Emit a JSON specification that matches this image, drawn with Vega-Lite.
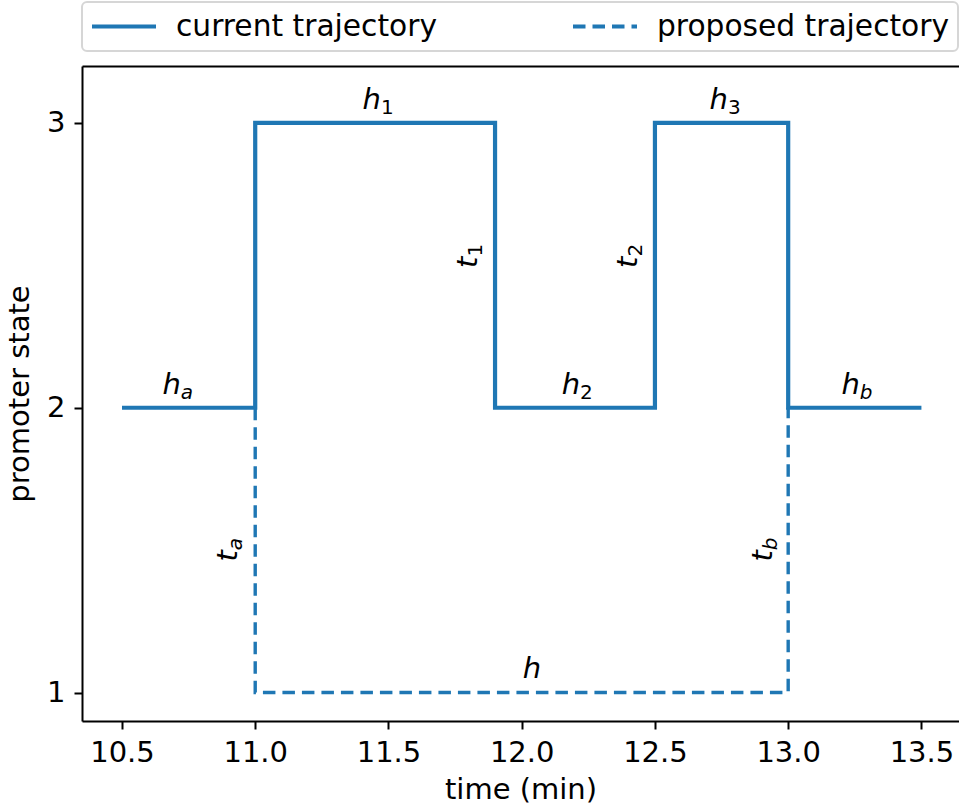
{
  "$schema": "https://vega.github.io/schema/vega-lite/v6.json",
  "width": 877,
  "height": 655,
  "autosize": {"type": "none"},
  "padding": {"left": 82, "top": 66, "right": 0, "bottom": 88},
  "background": "white",
  "datasets": {
    "trajectory": [
      {"series": "current trajectory", "step": 0, "time": 10.5, "state": 2},
      {"series": "current trajectory", "step": 1, "time": 11.0, "state": 2},
      {"series": "current trajectory", "step": 2, "time": 11.0, "state": 3},
      {"series": "current trajectory", "step": 3, "time": 11.9, "state": 3},
      {"series": "current trajectory", "step": 4, "time": 11.9, "state": 2},
      {"series": "current trajectory", "step": 5, "time": 12.5, "state": 2},
      {"series": "current trajectory", "step": 6, "time": 12.5, "state": 3},
      {"series": "current trajectory", "step": 7, "time": 13.0, "state": 3},
      {"series": "current trajectory", "step": 8, "time": 13.0, "state": 2},
      {"series": "current trajectory", "step": 9, "time": 13.5, "state": 2},
      {"series": "proposed trajectory", "step": 0, "time": 11.0, "state": 2},
      {"series": "proposed trajectory", "step": 1, "time": 11.0, "state": 1},
      {"series": "proposed trajectory", "step": 2, "time": 13.0, "state": 1},
      {"series": "proposed trajectory", "step": 3, "time": 13.0, "state": 2}
    ],
    "holdLabels": [
      {"main": "h", "sub": "a", "time": 10.721, "state": 2.05},
      {"main": "h", "sub": "1", "time": 11.472, "state": 3.05},
      {"main": "h", "sub": "2", "time": 12.219, "state": 2.05},
      {"main": "h", "sub": "3", "time": 12.774, "state": 3.05},
      {"main": "h", "sub": "b", "time": 13.269, "state": 2.05}
    ],
    "plainLabels": [
      {"main": "h", "time": 12.038, "state": 1.05}
    ],
    "jumpLabels": [
      {"main": "t", "sub": "1", "time": 11.834, "state": 2.531},
      {"main": "t", "sub": "2", "time": 12.432, "state": 2.531},
      {"main": "t", "sub": "a", "time": 10.932, "state": 1.5},
      {"main": "t", "sub": "b", "time": 12.939, "state": 1.5}
    ]
  },
  "config": {
    "font": "DejaVu Sans",
    "view": {"stroke": null},
    "axis": {
      "grid": false,
      "domainColor": "black",
      "domainWidth": 2,
      "tickColor": "black",
      "tickWidth": 2,
      "tickSize": 8,
      "labelFont": "DejaVu Sans",
      "labelFontSize": 29,
      "labelColor": "black",
      "titleFont": "DejaVu Sans",
      "titleFontSize": 29,
      "titleFontWeight": "normal",
      "titleColor": "black",
      "labelPadding": 9
    },
    "legend": {
      "orient": "none",
      "legendX": 0,
      "legendY": -64,
      "direction": "horizontal",
      "title": null,
      "labelFont": "DejaVu Sans",
      "labelFontSize": 29.7,
      "labelColor": "black",
      "labelLimit": 0,
      "labelOffset": 18,
      "symbolType": "stroke",
      "symbolSize": 4096,
      "symbolStrokeWidth": 4,
      "symbolStrokeColor": "#1f77b4",
      "clipHeight": 33,
      "fillColor": "white",
      "strokeColor": "#d6d6d6",
      "strokeWidth": 2,
      "cornerRadius": 5,
      "padding": 8,
      "columnPadding": 134
    }
  },
  "resolve": {"axis": {"x": "independent"}},
  "layer": [
    {
      "data": {"name": "trajectory"},
      "transform": [{"filter": "datum.series === 'current trajectory'"}],
      "mark": {"type": "line", "strokeWidth": 4.2, "strokeJoin": "miter", "strokeCap": "butt"},
      "encoding": {
        "x": {
          "field": "time", "type": "quantitative",
          "scale": {"domain": [10.35, 13.641], "nice": false, "zero": false},
          "axis": {"values": [10.5, 11, 11.5, 12, 12.5, 13, 13.5], "format": ".1f", "title": "time (min)", "titlePadding": 8}
        },
        "y": {
          "field": "state", "type": "quantitative",
          "scale": {"domain": [0.9, 3.2], "nice": false, "zero": false},
          "axis": {"values": [1, 2, 3], "format": "d", "title": "promoter state", "titlePadding": 12}
        },
        "order": {"field": "step", "type": "quantitative"},
        "color": {
          "field": "series", "type": "nominal",
          "scale": {"domain": ["current trajectory", "proposed trajectory"], "range": ["#1f77b4", "#1f77b4"]}
        },
        "strokeDash": {
          "field": "series", "type": "nominal",
          "scale": {"domain": ["current trajectory", "proposed trajectory"], "range": [[1, 0], [12.5, 7]]}
        }
      }
    },
    {
      "data": {"name": "trajectory"},
      "transform": [{"filter": "datum.series === 'proposed trajectory'"}],
      "mark": {"type": "line", "strokeWidth": 3.4, "strokeJoin": "miter", "strokeCap": "butt"},
      "encoding": {
        "x": {"field": "time", "type": "quantitative", "axis": null},
        "y": {"field": "state", "type": "quantitative"},
        "order": {"field": "step", "type": "quantitative"},
        "color": {"field": "series", "type": "nominal"},
        "strokeDash": {"field": "series", "type": "nominal"}
      }
    },
    {
      "data": {"name": "holdLabels"},
      "mark": {"type": "text", "fontSize": 29, "fontStyle": "italic", "align": "right", "baseline": "alphabetic", "color": "black"},
      "encoding": {
        "x": {"field": "time", "type": "quantitative", "axis": null},
        "y": {"field": "state", "type": "quantitative"},
        "text": {"field": "main"}
      }
    },
    {
      "data": {"name": "holdLabels"},
      "transform": [{"filter": "indexof('0123456789', datum.sub) < 0"}],
      "mark": {"type": "text", "fontSize": 20, "fontStyle": "italic", "align": "left", "baseline": "alphabetic", "dy": 5, "color": "black"},
      "encoding": {
        "x": {"field": "time", "type": "quantitative", "axis": null},
        "y": {"field": "state", "type": "quantitative"},
        "text": {"field": "sub"}
      }
    },
    {
      "data": {"name": "holdLabels"},
      "transform": [{"filter": "indexof('0123456789', datum.sub) >= 0"}],
      "mark": {"type": "text", "fontSize": 20, "align": "left", "baseline": "alphabetic", "dy": 5, "color": "black"},
      "encoding": {
        "x": {"field": "time", "type": "quantitative", "axis": null},
        "y": {"field": "state", "type": "quantitative"},
        "text": {"field": "sub"}
      }
    },
    {
      "data": {"name": "plainLabels"},
      "mark": {"type": "text", "fontSize": 29, "fontStyle": "italic", "align": "center", "baseline": "alphabetic", "color": "black"},
      "encoding": {
        "x": {"field": "time", "type": "quantitative", "axis": null},
        "y": {"field": "state", "type": "quantitative"},
        "text": {"field": "main"}
      }
    },
    {
      "data": {"name": "jumpLabels"},
      "mark": {"type": "text", "fontSize": 29, "fontStyle": "italic", "align": "right", "baseline": "alphabetic", "angle": 270, "color": "black"},
      "encoding": {
        "x": {"field": "time", "type": "quantitative", "axis": null},
        "y": {"field": "state", "type": "quantitative"},
        "text": {"field": "main"}
      }
    },
    {
      "data": {"name": "jumpLabels"},
      "transform": [{"filter": "indexof('0123456789', datum.sub) < 0"}],
      "mark": {"type": "text", "fontSize": 20, "fontStyle": "italic", "align": "left", "baseline": "alphabetic", "angle": 270, "dy": 5, "color": "black"},
      "encoding": {
        "x": {"field": "time", "type": "quantitative", "axis": null},
        "y": {"field": "state", "type": "quantitative"},
        "text": {"field": "sub"}
      }
    },
    {
      "data": {"name": "jumpLabels"},
      "transform": [{"filter": "indexof('0123456789', datum.sub) >= 0"}],
      "mark": {"type": "text", "fontSize": 20, "align": "left", "baseline": "alphabetic", "angle": 270, "dy": 5, "color": "black"},
      "encoding": {
        "x": {"field": "time", "type": "quantitative", "axis": null},
        "y": {"field": "state", "type": "quantitative"},
        "text": {"field": "sub"}
      }
    },
    {
      "data": {"name": "plainLabels"},
      "mark": {"type": "point", "opacity": 0},
      "encoding": {
        "x": {"field": "time", "type": "quantitative", "axis": {"orient": "top", "labels": false, "ticks": false, "domain": true, "title": null}},
        "y": {"field": "state", "type": "quantitative"}
      }
    }
  ]
}
